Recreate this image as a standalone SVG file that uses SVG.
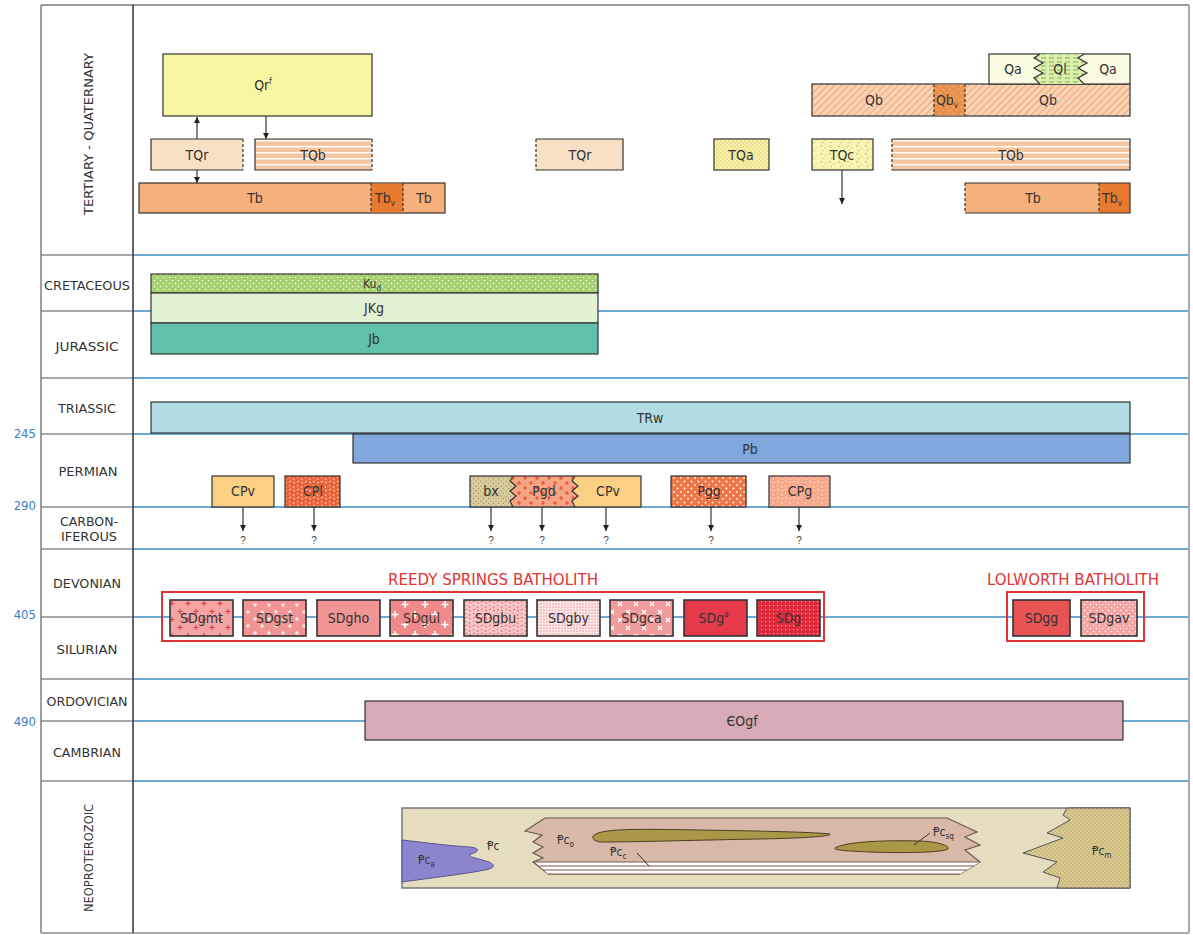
<svg xmlns="http://www.w3.org/2000/svg" width="1193" height="935" viewBox="0 0 1193 935">
<style>
.t{font-family:'Liberation Sans Narrow','DejaVu Sans Condensed','Liberation Sans',sans-serif;fill:#333;text-anchor:middle}
.lb{font-size:14px}
.pl{font-size:13px;fill:#333}
.num{font-family:'Liberation Sans Narrow','DejaVu Sans Condensed','Liberation Sans',sans-serif;font-size:13px;fill:#3a7cc0;text-anchor:end}
.red{font-family:'Liberation Sans Narrow','DejaVu Sans Condensed','Liberation Sans',sans-serif;font-size:16px;fill:#e03434;text-anchor:middle}
.bx{stroke:#333;stroke-width:1.2}
.sd{stroke:#333;stroke-width:1.6}
.ds{stroke:#333;stroke-width:1.2;stroke-dasharray:3,2;fill:none}
.ln{stroke:#333;stroke-width:1.2;fill:none}
.blue{stroke:#3d8cc4;stroke-width:1.3}
.sep{stroke:#555;stroke-width:1.2}
.arr{stroke:#333;stroke-width:1.2;marker-end:url(#ah)}
.q{font-family:'Liberation Sans','DejaVu Sans',sans-serif;font-size:10px;fill:#444;text-anchor:middle}
.pc{font-family:'Liberation Sans Narrow','DejaVu Sans Condensed','Liberation Sans',sans-serif;font-size:12px;fill:#333}
</style>
<defs>
<marker id="ah" viewBox="0 0 8 8" refX="8" refY="4" markerWidth="6" markerHeight="6" markerUnits="userSpaceOnUse" orient="auto"><path d="M0,0 L8,4 L0,8 z" fill="#222"/></marker>
<pattern id="pKud" width="6" height="6" patternUnits="userSpaceOnUse"><rect width="6" height="6" fill="#a4d070"/><circle cx="1.5" cy="1.5" r="0.8" fill="#fff"/><circle cx="4.5" cy="4.5" r="0.8" fill="#fff"/></pattern>
<pattern id="pTQb" width="10" height="6" patternUnits="userSpaceOnUse"><rect width="10" height="6" fill="#f5c6a0"/><rect y="2" width="10" height="1.4" fill="#fff"/></pattern>
<pattern id="pQb" width="5" height="5" patternUnits="userSpaceOnUse" patternTransform="rotate(45)"><rect width="5" height="5" fill="#f8d2b2"/><rect width="1" height="5" fill="#eca57c"/></pattern>
<pattern id="pQbv" width="7" height="7" patternUnits="userSpaceOnUse"><rect width="7" height="7" fill="#e8904c"/><circle cx="2" cy="2" r="0.7" fill="#f8d0a0"/><circle cx="5" cy="5.5" r="0.6" fill="#f8d0a0"/></pattern>
<pattern id="pTQa" width="4" height="4" patternUnits="userSpaceOnUse"><rect width="4" height="4" fill="#f8f0a4"/><circle cx="1" cy="1" r="0.5" fill="#b8a858"/><circle cx="3" cy="3" r="0.5" fill="#b8a858"/></pattern>
<pattern id="pTQc" width="9" height="8" patternUnits="userSpaceOnUse"><rect width="9" height="8" fill="#f8f4b2"/><circle cx="2" cy="2" r="0.7" fill="#b0a050"/><circle cx="6" cy="4" r="0.5" fill="#b0a050"/><circle cx="3.5" cy="6.5" r="0.6" fill="#b0a050"/></pattern>
<pattern id="pQl" width="8" height="4" patternUnits="userSpaceOnUse"><rect width="8" height="4" fill="#dcefb0"/><rect x="1" y="1.5" width="5" height="1" fill="#78b838"/></pattern>
<pattern id="pCPl" width="8" height="8" patternUnits="userSpaceOnUse"><rect width="8" height="8" fill="#e8643a"/><path d="M1,2 l2,-1 M5,6 l1,2 M5,2 l2,1 M1,6 l1,-1" stroke="#fff" stroke-width="0.8"/></pattern>
<pattern id="pBx" width="5" height="5" patternUnits="userSpaceOnUse"><rect width="5" height="5" fill="#d8cc9c"/><circle cx="1" cy="1" r="0.6" fill="#7a6a40"/><circle cx="3.5" cy="3.2" r="0.5" fill="#7a6a40"/></pattern>
<pattern id="pPgd" width="12" height="10" patternUnits="userSpaceOnUse"><rect width="12" height="10" fill="#f5a484"/><path d="M3,1 v4 M1,3 h4 M9,6 v4 M7,8 h4" stroke="#e84830" stroke-width="1"/></pattern>
<pattern id="pPgg" width="7" height="7" patternUnits="userSpaceOnUse"><rect width="7" height="7" fill="#f07646"/><circle cx="2" cy="2" r="0.9" fill="#fff"/><circle cx="5.5" cy="5.5" r="0.9" fill="#fff"/></pattern>
<pattern id="pCPg" width="8" height="8" patternUnits="userSpaceOnUse"><rect width="8" height="8" fill="#f5a88c"/><path d="M1,2 l2,-1 M5,6 l1,2 M5,2 l2,1 M1,6 l1,-1" stroke="#fde0d4" stroke-width="0.8"/></pattern>
<pattern id="pSDgmt" width="16" height="16" patternUnits="userSpaceOnUse"><rect width="16" height="16" fill="#f5a4a4"/><path d="M4,1 v5 M1.5,3.5 h5 M12,9 v5 M9.5,11.5 h5" stroke="#e04050" stroke-width="1.2"/></pattern>
<pattern id="pSDgst" width="14" height="14" patternUnits="userSpaceOnUse"><rect width="14" height="14" fill="#f09494"/><path d="M3,1 v4 M1,3 h4 M10,8 v4 M8,10 h4" stroke="#fff" stroke-width="1"/></pattern>
<pattern id="pSDgul" width="20" height="20" patternUnits="userSpaceOnUse"><rect width="20" height="20" fill="#f08a8a"/><path d="M5,1 v7 M1.5,4.5 h7 M15,11 v7 M11.5,14.5 h7" stroke="#fff" stroke-width="1.6"/></pattern>
<pattern id="pSDgbu" width="8" height="8" patternUnits="userSpaceOnUse"><rect width="8" height="8" fill="#f8c4c4"/><path d="M1,2 l2,-1 M5,6 l1,2 M5,2 l2,1 M1,6 l1,-1" stroke="#d84050" stroke-width="0.8"/></pattern>
<pattern id="pSDgby" width="3" height="3" patternUnits="userSpaceOnUse"><rect width="3" height="3" fill="#fde6e6"/><circle cx="1" cy="1" r="0.55" fill="#d84858"/></pattern>
<pattern id="pSDgca" width="16" height="16" patternUnits="userSpaceOnUse"><rect width="16" height="16" fill="#f09c9c"/><path d="M2,2 l4,4 M6,2 l-4,4 M10,10 l4,4 M14,10 l-4,4" stroke="#fff" stroke-width="1.2"/></pattern>
<pattern id="pSDg" width="4" height="4" patternUnits="userSpaceOnUse"><rect width="4" height="4" fill="#e02a3c"/><rect x="1" y="1" width="1.2" height="1.2" fill="#f8a0a8"/></pattern>
<pattern id="pSDgav" width="6" height="6" patternUnits="userSpaceOnUse"><rect width="6" height="6" fill="#f5a4a4"/><circle cx="1.5" cy="1.5" r="0.8" fill="#fff"/><circle cx="4.5" cy="4.5" r="0.8" fill="#fff"/></pattern>
<pattern id="pPcm" width="4" height="4" patternUnits="userSpaceOnUse"><rect width="4" height="4" fill="#dccb90"/><circle cx="1" cy="1" r="0.55" fill="#8a7a48"/><circle cx="3" cy="3" r="0.55" fill="#8a7a48"/></pattern>
</defs>

<rect width="1193" height="935" fill="#fff"/>

<g id="frame">
<line class="blue" x1="133" y1="255" x2="1189" y2="255"/>
<line class="blue" x1="133" y1="311" x2="1189" y2="311"/>
<line class="blue" x1="133" y1="378" x2="1189" y2="378"/>
<line class="blue" x1="133" y1="434" x2="1189" y2="434"/>
<line class="blue" x1="133" y1="507" x2="1189" y2="507"/>
<line class="blue" x1="133" y1="549" x2="1189" y2="549"/>
<line class="blue" x1="133" y1="617" x2="1189" y2="617"/>
<line class="blue" x1="133" y1="679" x2="1189" y2="679"/>
<line class="blue" x1="133" y1="721" x2="1189" y2="721"/>
<line class="blue" x1="133" y1="781" x2="1189" y2="781"/>
<line x1="41" y1="5" x2="1189" y2="5" stroke="#999" stroke-width="2"/>
<line x1="1189" y1="5" x2="1189" y2="933" stroke="#aaa" stroke-width="2"/>
<line x1="41" y1="933" x2="1189" y2="933" stroke="#aaa" stroke-width="2"/>
<line x1="41" y1="5" x2="41" y2="933" stroke="#888" stroke-width="1.6"/>
<line x1="133" y1="5" x2="133" y2="933" stroke="#333" stroke-width="1.5"/>
<line class="sep" x1="41" y1="255" x2="133" y2="255"/>
<line class="sep" x1="41" y1="311" x2="133" y2="311"/>
<line class="sep" x1="41" y1="378" x2="133" y2="378"/>
<line class="sep" x1="41" y1="434" x2="133" y2="434"/>
<line class="sep" x1="41" y1="507" x2="133" y2="507"/>
<line class="sep" x1="41" y1="549" x2="133" y2="549"/>
<line class="sep" x1="41" y1="617" x2="133" y2="617"/>
<line class="sep" x1="41" y1="679" x2="133" y2="679"/>
<line class="sep" x1="41" y1="721" x2="133" y2="721"/>
<line class="sep" x1="41" y1="781" x2="133" y2="781"/>
</g>

<g id="period-labels">
<text class="t pl" transform="translate(93,134) rotate(-90)" textLength="162" lengthAdjust="spacingAndGlyphs">TERTIARY - QUATERNARY</text>
<text class="t pl" x="87" y="290" textLength="86" lengthAdjust="spacingAndGlyphs">CRETACEOUS</text>
<text class="t pl" x="87" y="351" textLength="63" lengthAdjust="spacingAndGlyphs">JURASSIC</text>
<text class="t pl" x="87" y="413" textLength="58" lengthAdjust="spacingAndGlyphs">TRIASSIC</text>
<text class="t pl" x="88" y="476" textLength="59" lengthAdjust="spacingAndGlyphs">PERMIAN</text>
<text class="t pl" x="89" y="526" textLength="58" lengthAdjust="spacingAndGlyphs">CARBON-</text>
<text class="t pl" x="89" y="541" textLength="56" lengthAdjust="spacingAndGlyphs">IFEROUS</text>
<text class="t pl" x="87" y="588" textLength="68" lengthAdjust="spacingAndGlyphs">DEVONIAN</text>
<text class="t pl" x="87" y="654" textLength="61" lengthAdjust="spacingAndGlyphs">SILURIAN</text>
<text class="t pl" x="87" y="706" textLength="81" lengthAdjust="spacingAndGlyphs">ORDOVICIAN</text>
<text class="t pl" x="87" y="757" textLength="68" lengthAdjust="spacingAndGlyphs">CAMBRIAN</text>
<text class="t pl" transform="translate(93,858) rotate(-90)" textLength="108" lengthAdjust="spacingAndGlyphs">NEOPROTEROZOIC</text>
<text class="num" x="36" y="438">245</text>
<text class="num" x="36" y="510">290</text>
<text class="num" x="36" y="619">405</text>
<text class="num" x="36" y="726">490</text>
</g>

<g id="connectors">
<line class="arr" x1="197" y1="139" x2="197" y2="117"/>
<line class="arr" x1="266" y1="116" x2="266" y2="139"/>
<line class="arr" x1="197" y1="170" x2="197" y2="183"/>
<line class="arr" x1="842" y1="170" x2="842" y2="204"/>
<line class="arr" x1="243" y1="507" x2="243" y2="531"/>
<line class="arr" x1="314" y1="507" x2="314" y2="531"/>
<line class="arr" x1="491" y1="507" x2="491" y2="531"/>
<line class="arr" x1="542" y1="507" x2="542" y2="531"/>
<line class="arr" x1="606" y1="507" x2="606" y2="531"/>
<line class="arr" x1="711" y1="507" x2="711" y2="531"/>
<line class="arr" x1="799" y1="507" x2="799" y2="531"/>
<text class="q" x="243" y="544">?</text>
<text class="q" x="314" y="544">?</text>
<text class="q" x="491" y="544">?</text>
<text class="q" x="542" y="544">?</text>
<text class="q" x="606" y="544">?</text>
<text class="q" x="711" y="544">?</text>
<text class="q" x="799" y="544">?</text>
</g>

<g id="Qrf"><rect class="bx" x="163" y="54" width="209" height="62" fill="#f8f6a2"/><text class="t lb" x="263" y="90">Qr<tspan dy="-6" font-size="8">f</tspan></text></g>
<g id="TQr-1"><rect x="151" y="139" width="92" height="31" fill="#f8e0c4"/><path class="ln" d="M243,139 H151 V170 H243"/><line class="ds" x1="243" y1="139" x2="243" y2="170"/><text class="t lb" x="197" y="160">TQr</text></g>
<g id="TQb-1"><rect x="255" y="139" width="117" height="31" fill="url(#pTQb)"/><path class="ln" d="M372,139 H255 V170 H372"/><line class="ds" x1="372" y1="139" x2="372" y2="170"/><text class="t lb" x="313" y="160">TQb</text></g>
<g id="Tb-1"><rect class="bx" x="139" y="183" width="306" height="30" fill="#f5b07c"/><rect x="371" y="183.6" width="32" height="28.8" fill="#e87a30"/><line class="ds" x1="371" y1="183" x2="371" y2="213"/><line class="ds" x1="403" y1="183" x2="403" y2="213"/><text class="t lb" x="255" y="203">Tb</text><text class="t lb" x="385" y="203">Tb<tspan dy="3" font-size="8">v</tspan></text><text class="t lb" x="424" y="203">Tb</text></g>
<g id="TQr-2"><rect x="536" y="139" width="87" height="31" fill="#f8e0c4"/><path class="ln" d="M536,139 H623 V170 H536"/><line class="ds" x1="536" y1="139" x2="536" y2="170"/><text class="t lb" x="580" y="160">TQr</text></g>
<g id="TQa"><rect class="bx" x="714" y="139" width="55" height="31" fill="url(#pTQa)"/><text class="t lb" x="741" y="160">TQa</text></g>
<g id="TQc"><rect class="bx" x="812" y="139" width="61" height="31" fill="url(#pTQc)"/><text class="t lb" x="842" y="160">TQc</text></g>
<g id="TQb-2"><rect x="892" y="139" width="238" height="31" fill="url(#pTQb)"/><path class="ln" d="M892,139 H1130 V170 H892"/><line class="ds" x1="892" y1="139" x2="892" y2="170"/><text class="t lb" x="1011" y="160">TQb</text></g>
<g id="Tb-2"><rect x="965" y="183" width="165" height="30" fill="#f5b07c"/><rect x="1099" y="183" width="31" height="30" fill="#e87a30"/><path class="ln" d="M965,183 H1130 V213 H965"/><line class="ds" x1="965" y1="183" x2="965" y2="213"/><line class="ds" x1="1099" y1="183" x2="1099" y2="213"/><text class="t lb" x="1033" y="203">Tb</text><text class="t lb" x="1112" y="203">Tb<tspan dy="3" font-size="8">v</tspan></text></g>
<g id="Qb"><rect class="bx" x="812" y="84" width="318" height="32" fill="url(#pQb)"/><rect x="934" y="84.6" width="31" height="30.8" fill="url(#pQbv)"/><line class="ds" x1="934" y1="84" x2="934" y2="116"/><line class="ds" x1="965" y1="84" x2="965" y2="116"/><text class="t lb" x="874" y="105">Qb</text><text class="t lb" x="947" y="105">Qb<tspan dy="3" font-size="8">v</tspan></text><text class="t lb" x="1048" y="105">Qb</text></g>
<g id="Qa-Ql"><rect class="bx" x="989" y="54" width="141" height="30" fill="#fbfae2"/><path d="M1040,54 L1034,58 L1043,63 L1034,68 L1043,73 L1034,78 L1040,84 L1084,84 L1078,78 L1087,73 L1078,68 L1087,63 L1078,58 L1084,54 Z" fill="url(#pQl)"/><path class="ln" d="M1040,54 L1034,58 L1043,63 L1034,68 L1043,73 L1034,78 L1040,84 M1084,84 L1078,78 L1087,73 L1078,68 L1087,63 L1078,58 L1084,54"/><text class="t lb" x="1013" y="74">Qa</text><text class="t lb" x="1060" y="74">Ql</text><text class="t lb" x="1108" y="74">Qa</text></g>

<g id="Kud"><rect class="bx" x="151" y="274" width="447" height="19" fill="url(#pKud)"/><text class="t" font-size="12" x="372" y="288">Ku<tspan dy="3" font-size="8">d</tspan></text></g>
<g id="JKg"><rect class="bx" x="151" y="293" width="447" height="30" fill="#e2f0d4"/><text class="t lb" x="374" y="313">JKg</text></g>
<g id="Jb"><rect class="bx" x="151" y="323" width="447" height="31" fill="#62c1aa"/><text class="t lb" x="374" y="344">Jb</text></g>
<g id="TRw"><rect class="bx" x="151" y="402" width="979" height="31" fill="#b2dce4"/><text class="t lb" x="650" y="423">TRw</text></g>
<g id="Pb"><rect class="bx" x="353" y="434" width="777" height="29" fill="#80a8dc"/><text class="t lb" x="750" y="454">Pb</text></g>

<g id="CPv-1"><rect class="bx" x="212" y="476" width="62" height="31" fill="#fcd084"/><text class="t lb" x="243" y="496">CPv</text></g>
<g id="CPl"><rect class="bx" x="285" y="476" width="55" height="31" fill="url(#pCPl)"/><text class="t lb" x="313" y="496">CPl</text></g>
<g id="bx-Pgd-CPv"><rect x="470" y="476" width="171" height="31" fill="#fcd084"/><path d="M470,476 L513,476 L510,481 L516,486 L510,491 L516,496 L510,501 L513,507 L470,507 Z" fill="url(#pBx)"/><path d="M513,476 L575,476 L572,481 L578,486 L572,491 L578,496 L572,501 L575,507 L513,507 L510,501 L516,496 L510,491 L516,486 L510,481 Z" fill="url(#pPgd)"/><rect class="bx" x="470" y="476" width="171" height="31" fill="none"/><path class="ln" d="M513,476 L510,481 L516,486 L510,491 L516,496 L510,501 L513,507 M575,476 L572,481 L578,486 L572,491 L578,496 L572,501 L575,507"/><text class="t lb" x="491" y="496">bx</text><text class="t lb" x="544" y="496">Pgd</text><text class="t lb" x="608" y="496">CPv</text></g>
<g id="Pgg"><rect class="bx" x="671" y="476" width="75" height="31" fill="url(#pPgg)"/><text class="t lb" x="709" y="496">Pgg</text></g>
<g id="CPg"><rect class="bx" x="769" y="476" width="61" height="31" fill="url(#pCPg)"/><text class="t lb" x="800" y="496">CPg</text></g>

<g id="reedy-springs-batholith">
<text class="red" x="493" y="585" textLength="210" lengthAdjust="spacingAndGlyphs">REEDY SPRINGS BATHOLITH</text>
<rect x="162" y="592" width="662" height="49" fill="none" stroke="#e03434" stroke-width="2"/>
</g>
<g id="SDgmt"><rect class="sd" x="170" y="600" width="63" height="36" fill="url(#pSDgmt)"/><text class="t lb" x="201.5" y="623">SDgmt</text></g>
<g id="SDgst"><rect class="sd" x="243" y="600" width="63" height="36" fill="url(#pSDgst)"/><text class="t lb" x="274.5" y="623">SDgst</text></g>
<g id="SDgho"><rect class="sd" x="317" y="600" width="63" height="36" fill="#f09494"/><text class="t lb" x="348.5" y="623">SDgho</text></g>
<g id="SDgul"><rect class="sd" x="390" y="600" width="63" height="36" fill="url(#pSDgul)"/><text class="t lb" x="421.5" y="623">SDgul</text></g>
<g id="SDgbu"><rect class="sd" x="464" y="600" width="63" height="36" fill="url(#pSDgbu)"/><text class="t lb" x="495.5" y="623">SDgbu</text></g>
<g id="SDgby"><rect class="sd" x="537" y="600" width="63" height="36" fill="url(#pSDgby)"/><text class="t lb" x="568.5" y="623">SDgby</text></g>
<g id="SDgca"><rect class="sd" x="610" y="600" width="63" height="36" fill="url(#pSDgca)"/><text class="t lb" x="641.5" y="623">SDgca</text></g>
<g id="SDga"><rect class="sd" x="684" y="600" width="63" height="36" fill="#e63a4a"/><text class="t lb" x="713.5" y="623">SDg<tspan dy="-6" font-size="8">a</tspan></text></g>
<g id="SDg"><rect class="sd" x="757" y="600" width="63" height="36" fill="url(#pSDg)"/><text class="t lb" x="788.5" y="623">SDg</text></g>

<g id="lolworth-batholith">
<text class="red" x="1073" y="585" textLength="172" lengthAdjust="spacingAndGlyphs">LOLWORTH BATHOLITH</text>
<rect x="1007" y="592" width="137" height="49" fill="none" stroke="#e03434" stroke-width="2"/>
</g>
<g id="SDgg"><rect class="sd" x="1013" y="600" width="57" height="36" fill="#e85454"/><text class="t lb" x="1041.5" y="623">SDgg</text></g>
<g id="SDgav"><rect class="sd" x="1081" y="600" width="56" height="36" fill="url(#pSDgav)"/><text class="t lb" x="1109" y="623">SDgav</text></g>

<g id="EOgf"><rect class="bx" x="365" y="701" width="758" height="39" fill="#d8aab8"/><text class="t lb" x="742" y="726">ЄOgf</text></g>

<g id="neoproterozoic">
<rect x="402" y="808" width="728" height="80" fill="#e6dcbf" stroke="#777" stroke-width="1.5"/>
<path d="M402,840 C420,842 450,846 470,847 C479,848 481,851 471,854 C467,857 476,858 486,861 C496,864 496,868 485,870 C465,874 430,878 402,882 Z" fill="#8c84cc" stroke="#5a5490" stroke-width="1"/>
<path d="M545,818 L947,818 L977,832 L965,837 L980,845 L965,850 L980,862 L960,874 L548,874 L533,862 L543,858 L533,853 L543,847 L533,842 L542,835 L525,831 Z" fill="#d8b8a8" stroke="#6a5a50" stroke-width="1.2"/>
<path d="M535,862 L980,862 L960,874 L548,874 Z" fill="#fff"/>
<path d="M534,862 H980 M539,866 H974 M543,870 H967 M548,874 H960" stroke="#7a5a4a" stroke-width="1.2"/>
<path d="M593,836 C600,828 640,829 700,830 C760,831 810,832 830,834 C832,836 810,838 760,839 C700,840 640,842 600,842 C594,841 592,838 593,836 Z" fill="#a89848" stroke="#4a4020" stroke-width="1"/>
<path d="M835,848 C845,842 880,840 920,841 C940,842 950,846 948,849 C940,853 900,853 870,852 C845,851 833,850 835,848 Z" fill="#a89848" stroke="#4a4020" stroke-width="1"/>
<path d="M1067,808 L1063,815 L1070,820 L1047,833 L1063,838 L1023,853 L1057,862 L1043,872 L1060,878 L1057,888 L1130,888 L1130,808 Z" fill="url(#pPcm)" stroke="#555" stroke-width="1"/>
<line x1="637" y1="853" x2="649" y2="866" stroke="#333" stroke-width="1"/>
<line x1="930" y1="833" x2="914" y2="845" stroke="#333" stroke-width="1"/>
<text class="pc" x="418" y="864">Ᵽc<tspan dy="3" font-size="8">a</tspan></text>
<text class="pc" x="487" y="850">Ᵽc</text>
<text class="pc" x="557" y="844">Ᵽc<tspan dy="3" font-size="8">o</tspan></text>
<text class="pc" x="610" y="856">Ᵽc<tspan dy="3" font-size="8">c</tspan></text>
<text class="pc" x="933" y="836">Ᵽc<tspan dy="3" font-size="8">sq</tspan></text>
<text class="pc" x="1092" y="855">Ᵽc<tspan dy="3" font-size="8">m</tspan></text>
</g>
</svg>
